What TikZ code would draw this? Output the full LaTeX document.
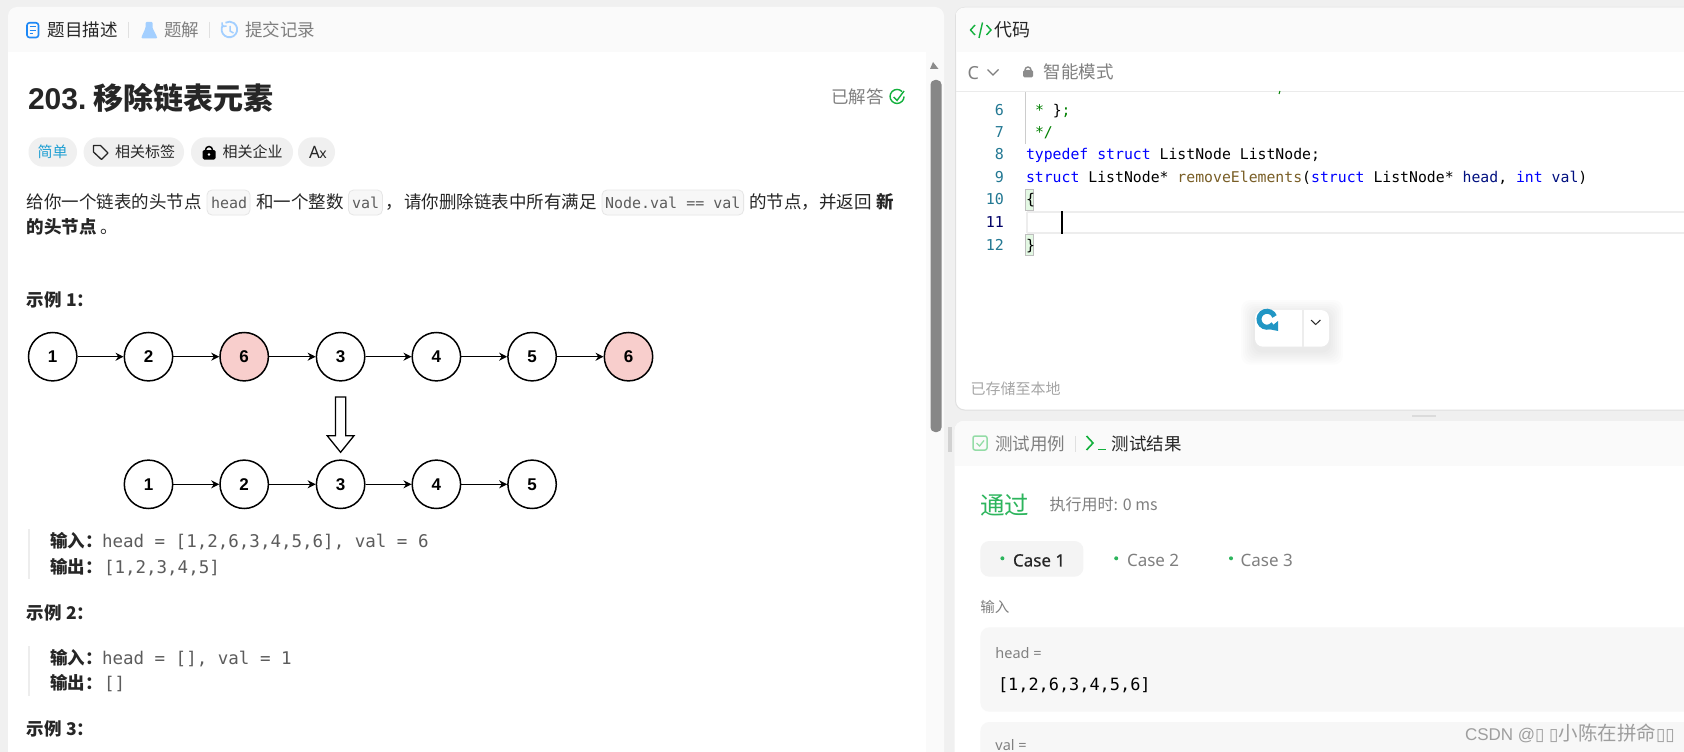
\documentclass[tikz,border=0pt]{standalone}
\usepackage{fontspec}
\usetikzlibrary{arrows.meta}
\setmainfont{Noto Sans CJK SC}
\newfontfamily\cjk{Noto Sans CJK SC}
\newfontfamily\codef{DejaVu Sans Mono}
\newfontfamily\arialf{Liberation Sans}
\newfontfamily\latf{Noto Sans}
\newfontfamily\dejaf{DejaVu Sans}
\newfontfamily\latbold[FakeBold=0.5]{Noto Sans}
\definecolor{pagebg}{HTML}{F0F0F0}
\definecolor{headbg}{HTML}{FAFAFA}
\definecolor{inkc}{HTML}{262626}
\definecolor{grayc}{HTML}{7F7F7F}
\definecolor{softc}{HTML}{A3CFFF}
\definecolor{docc}{HTML}{1E88F5}
\definecolor{logoc}{HTML}{2196C4}
\definecolor{greenc}{HTML}{12B03C}
\definecolor{passc}{HTML}{2DB55D}
\definecolor{pillc}{HTML}{F0F0F0}
\definecolor{codebg}{HTML}{F7F7F7}
\definecolor{codebd}{HTML}{E6E6E6}
\definecolor{monoc}{HTML}{5C5C5C}
\definecolor{numc}{HTML}{237893}
\definecolor{kwc}{HTML}{0000FF}
\definecolor{fnc}{HTML}{795E26}
\definecolor{varc}{HTML}{001080}
\definecolor{cmtc}{HTML}{008000}
\definecolor{pinkc}{HTML}{F8CECC}
\newcommand{\kw}[1]{\textcolor{kwc}{#1}}
\newcommand{\fnn}[1]{\textcolor{fnc}{#1}}
\newcommand{\vr}[1]{\textcolor{varc}{#1}}
\newcommand{\tofu}{{\dejaf\fontsize{17}{17}\selectfont ▯}}
\tikzset{
 x=1pt,y=-1pt,
 lab/.style={inner sep=0pt,outer sep=0pt,anchor=west,text height=.76*#1 pt,text depth=0pt,text=inkc},
 cn/.style={lab=#1,font=\cjk\fontsize{#1}{#1}\selectfont},
 cnb/.style={lab=#1,font=\cjk\bfseries\fontsize{#1}{#1}\selectfont},
 mn/.style={lab=#1,font=\codef\fontsize{#1}{#1}\selectfont},
 ltn/.style={lab=#1,font=\latf\fontsize{#1}{#1}\selectfont},
 ln/.style={circle,draw=black,line width=1.5pt,minimum size=48.4pt,inner sep=0pt,fill=white,font=\arialf\bfseries\fontsize{17}{17}\selectfont},
 lnred/.style={ln,fill=pinkc},
 lnk/.style={-{Stealth[length=8pt,width=8pt]},line width=1.5pt,black},
 pill/.style={fill=pillc,rounded corners=14.5pt},
 cpill/.style={fill=codebg,rounded corners=5pt},
 sep/.style={draw=black!12,line width=1pt},
 qbar/.style={fill=black!7},
 lnum/.style={lab=15,anchor=east,font=\codef\fontsize{15}{15}\selectfont,text=numc},
 code/.style={mn=14.8},
}
\begin{document}
\begin{tikzpicture}
\useasboundingbox (0,0) rectangle (1684,752);
\fill[pagebg] (0,0) rectangle (1684,752);
% ---------- left panel
\fill[headbg,rounded corners=9pt] (8,7) rectangle (944,780);
\fill[white] (8,52) rectangle (925.5,752);
\fill[black!2] (925.5,52) rectangle (944,752);
\fill[black!45] (933,62) -- (938.5,69) -- (930,69) -- cycle;
\fill[black!47,rounded corners=4.5pt] (930.5,80) rectangle (941.5,432);
% tab icons
\draw[docc,line width=1.6pt,rounded corners=2.5pt] (27,22.8) rectangle (38.5,37.5);
\draw[docc,line width=1.3pt] (29.5,26.8) -- (35.5,26.8) (29.5,30.2) -- (35.5,30.2) (29.5,33.6) -- (32.5,33.6);
\fill[softc,rounded corners=1pt] (145.5,22) -- (152.5,22) -- (152.5,28) -- (157,37) -- (157,38.5) -- (141.5,38.5) -- (141.5,37) -- (145.5,28) -- cycle;
\draw[softc,line width=1.8pt] (223,25) arc[start angle=215,end angle=-120,radius=7.8];
\draw[softc,line width=1.6pt] (222,22.5) -- (222.5,26.5) -- (226.5,26);
\draw[softc,line width=1.5pt] (230,26) -- (230,31) -- (233.5,33);
\draw[sep] (128,22) -- (128,38);
\draw[sep] (209,22) -- (209,38);
\node[cn=17.5] (t1) at (47.5,30) {题目描述};
\node[cn=17.5,text=grayc] (t2) at (164,30) {题解};
\node[cn=17.5,text=grayc] (t3) at (245,30) {提交记录};
% title
\node[lab=30,font=\arialf\bfseries\fontsize{30}{30}\selectfont] (title0) at (28,98) {203.};
\node[cnb=30] (title) at (93.5,98) {移除链表元素};
\node[cn=17.5,text=grayc] (done) at (831,97) {已解答};
\draw[greenc,line width=1.4pt] (902,91.5) arc[start angle=-45,end angle=-360,radius=7];
\draw[greenc,line width=1.4pt] (893.5,97) -- (897,100.5) -- (904,91);
% pills
\fill[pill] (28.5,137.3) rectangle (77,166.7);
\fill[pill] (83.6,137.3) rectangle (184,166.7);
\fill[pill] (191,137.3) rectangle (293,166.7);
\fill[pill] (298,137.3) rectangle (335,166.7);
\node[cn=15,text=cyan!70!teal] (easy) at (37.7,152) {简单};
\draw[inkc,line width=1.3pt,line join=round] (93.5,145.5) -- (100.5,145.5) -- (108,153) -- (101.5,159.5) -- (93.5,152) -- cycle;
\node[cn=15] (tag1) at (115,152) {相关标签};
\draw[black,line width=1.5pt] (205.5,150) arc[start angle=180,end angle=360,radius=3.5];
\fill[black,rounded corners=1.5pt] (202.5,150) rectangle (215.5,159.5);
\fill[white] (209,154.5) circle[radius=1.4];
\node[cn=15] (tag2) at (222.7,152) {相关企业};
\node[ltn=17] (langA) at (309,152) {A\kern-.5pt{\fontsize{14}{14}\selectfont x}};
% description
\fill[cpill] (207,190) rectangle (250,215);
\fill[cpill] (348.5,190) rectangle (382.4,215);
\fill[cpill] (602,190) rectangle (743.6,215);
\draw[codebd,line width=.8pt,rounded corners=5pt] (207,190) rectangle (250,215);
\draw[codebd,line width=.8pt,rounded corners=5pt] (348.5,190) rectangle (382.4,215);
\draw[codebd,line width=.8pt,rounded corners=5pt] (602,190) rectangle (743.6,215);
\node[cn=17.5] (d1) at (27,201.5) {给你一个链表的头节点};
\node[mn=15,text=monoc] (d2) at (211,203) {head};
\node[cn=17.5] (d3) at (256,201.5) {和一个整数};
\node[mn=15,text=monoc] (d4) at (352,203) {val};
\node[cn=17.5] (d5) at (385,201.5) {，};
\node[cn=17.5] (d6) at (404,201.5) {请你删除链表中所有满足};
\node[mn=15,text=monoc] (d7) at (605,203) {Node.val == val};
\node[cn=17.5] (d8) at (749,201.5) {的节点，并返回};
\node[cnb=17.5] (d9) at (876,201.5) {新};
\node[cnb=17.5] (d10) at (27,227) {的头节点};
\node[cn=17.5] (d11) at (100,227) {。};
% example 1
\node[cnb=17.5] (ex1) at (27,299.5) {示例 1：};
\node[ln] (a1) at (52.7,356.7) {1};
\node[ln] (a2) at (148.5,356.7) {2};
\node[lnred] (a3) at (244.2,356.7) {6};
\node[ln] (a4) at (340.6,356.7) {3};
\node[ln] (a5) at (436.4,356.7) {4};
\node[ln] (a6) at (532.1,356.7) {5};
\node[lnred] (a7) at (628.5,356.7) {6};
\draw[lnk] (a1) -- (a2);
\draw[lnk] (a2) -- (a3);
\draw[lnk] (a3) -- (a4);
\draw[lnk] (a4) -- (a5);
\draw[lnk] (a5) -- (a6);
\draw[lnk] (a6) -- (a7);
\draw[black,line width=1.3pt,fill=white,line join=miter] (335.4,397) -- (345.8,397) -- (345.8,435.7) -- (354,435.7) -- (340.6,452.3) -- (327.2,435.7) -- (335.4,435.7) -- cycle;
\node[ln] (b1) at (148.5,484.3) {1};
\node[ln] (b2) at (244.2,484.3) {2};
\node[ln] (b3) at (340.6,484.3) {3};
\node[ln] (b4) at (436.4,484.3) {4};
\node[ln] (b5) at (532.1,484.3) {5};
\draw[lnk] (b1) -- (b2);
\draw[lnk] (b2) -- (b3);
\draw[lnk] (b3) -- (b4);
\draw[lnk] (b4) -- (b5);
\fill[qbar] (28,529) rectangle (30,578.7);
\node[cnb=17.5] (i1) at (50,540.5) {输入：};
\node[mn=17.5,text=monoc] (i1v) at (102,540.5) {head = [1,2,6,3,4,5,6], val = 6};
\node[cnb=17.5] (o1) at (50,566.5) {输出：};
\node[mn=17.5,text=monoc] (o1v) at (104,566.5) {[1,2,3,4,5]};
\node[cnb=17.5] (ex2) at (27,612.7) {示例 2：};
\fill[qbar] (28,646) rectangle (30,695.7);
\node[cnb=17.5] (i2) at (50,657.5) {输入：};
\node[mn=17.5,text=monoc] (i2v) at (102,657.5) {head = [], val = 1};
\node[cnb=17.5] (o2) at (50,683.3) {输出：};
\node[mn=17.5,text=monoc] (o2v) at (104,683.3) {[]};
\node[cnb=17.5] (ex3) at (27,729.3) {示例 3：};
% ---------- top right panel
\fill[white,draw=black!12,line width=1pt,rounded corners=9pt] (955.5,7.5) rectangle (1700,410);
\begin{scope}
\clip[rounded corners=9pt] (955.5,7.5) rectangle (1700,410);
\fill[headbg] (955.5,7.5) rectangle (1700,52);
\draw[black!8,line width=1pt] (955.5,91.5) -- (1684,91.5);
\end{scope}
\draw[greenc,line width=1.4pt] (975,25) -- (970.5,30) -- (975,35) (986.5,25) -- (991,30) -- (986.5,35);
\draw[greenc,line width=1.4pt] (982.5,22.5) -- (979,38);
\node[cn=18] (codeT) at (994.5,30) {代码};
\node[ltn=18,text=grayc] (cLang) at (967.5,72.5) {C};
\draw[grayc,line width=1.2pt] (987.5,69.5) -- (993,75) -- (998.5,69.5);
\draw[grayc!90,line width=1.4pt] (1025,70) arc[start angle=180,end angle=360,radius=3];
\fill[grayc!90,rounded corners=1.5pt] (1023,70) rectangle (1033,77.5);
\node[cn=17.5,text=grayc] (mode) at (1043.5,72) {智能模式};
% code
\draw[black!20,line width=.8pt] (1025.5,92) -- (1025.5,144);
\draw[cmtc,line width=1pt] (1280,91) -- (1279,94);
\fill[codebg!92!green,draw=black!25,line width=.6pt] (1025.5,189.5) rectangle (1033.3,210);
\fill[codebg!92!green,draw=black!25,line width=.6pt] (1025.5,234.5) rectangle (1033.3,255.5);
\draw[black!7,line width=2pt] (1026.5,212) -- (1684,212) (1026.5,233) -- (1684,233) (1026.5,212) -- (1026.5,233);
\node[lnum] (n6) at (1004,109.7) {6};
\node[lnum] (n7) at (1004,131.5) {7};
\node[lnum] (n8) at (1004,154) {8};
\node[lnum] (n9) at (1004,176.5) {9};
\node[lnum] (n10) at (1004,199) {10};
\node[lnum,text=blue!40!black] (n11) at (1004,221.5) {11};
\node[lnum] (n12) at (1004,244.5) {12};
\node[code,text=cmtc] (c6) at (1035,109.7) {* \textcolor{black}{\}};};
\node[code,text=cmtc] (c7) at (1035,131.5) {*/};
\node[code,text=black] (c8) at (1026,154) {\kw{typedef} \kw{struct} ListNode ListNode;};
\node[code,text=black] (c9) at (1026,176.5) {\kw{struct} ListNode* \fnn{removeElements}(\kw{struct} ListNode* \vr{head}, \kw{int} \vr{val})};
\node[code,text=black] (c10) at (1026,199) {\{};
\node[code,text=black] (c12) at (1026,244.5) {\}};
\draw[black,line width=1.6pt] (1062,211) -- (1062,234);
% floating widget
\foreach \s in {14,12,10,8,6,4,2}
  \fill[black,opacity=.012,rounded corners=9pt] (1255-\s,310-\s+4) rectangle (1329+\s,346.7+\s+4);
\fill[white,rounded corners=8pt] (1255,310) rectangle (1329,346.7);
\draw[black!7,line width=1.2pt] (1303,310) -- (1303,346.7);
\draw[black!85,line width=1pt] (1311,320) -- (1315.7,324.5) -- (1320.4,320);
\fill[logoc] (1268,329) -- (1278,331) -- (1278,321) -- cycle;
\draw[logoc,line width=5pt] (1274.5,316.5) arc[start angle=-20,end angle=-320,radius=8];
\node[cn=15,text=black!35] (saved) at (970.5,389) {已存储至本地};
% handles
\draw[black!14,line width=2pt] (1412,415.7) -- (1436,415.7);
\fill[black!18] (948,427) rectangle (951.5,452);
% ---------- bottom right panel
\fill[white,rounded corners=9pt] (954.7,421) rectangle (1700,780);
\begin{scope}
\clip[rounded corners=9pt] (954.7,421) rectangle (1700,780);
\fill[headbg] (954.7,421) rectangle (1700,465.7);
\end{scope}
\draw[greenc!45,line width=1.5pt,rounded corners=2pt] (973,436) rectangle (987,450);
\draw[greenc!45,line width=1.3pt] (976.5,443) -- (979.5,446) -- (984,440.5);
\node[cn=17.5,text=grayc] (tc) at (995,444) {测试用例};
\draw[sep] (1075.7,436) -- (1075.7,452);
\draw[greenc,line width=1.6pt] (1086.5,436) -- (1093,443) -- (1086.5,450);
\draw[greenc,line width=1.6pt] (1098,449.5) -- (1105.7,449.5);
\node[cn=17.5] (tr) at (1111.7,444) {测试结果};
\node[cn=24.5,text=passc] (pass) at (980.4,505) {通过};
\node[cn=16,text=black!50] (rt) at (1049.7,504) {执行用时: 0 ms};
\fill[black!4.5,rounded corners=9pt] (980.4,541) rectangle (1083.4,576.7);
\fill[passc] (1002.4,558.3) circle[radius=2];
\fill[passc] (1116.2,558.3) circle[radius=2];
\fill[passc] (1231,558.3) circle[radius=2];
\node[lab=17,font=\latbold\fontsize{17}{17}\selectfont] (k1) at (1013,560) {Case 1};
\node[ltn=17,text=grayc] (k2) at (1127,560) {Case 2};
\node[ltn=17,text=grayc] (k3) at (1240.7,560) {Case 3};
\node[cn=14.5,text=black!50] (inlab) at (980.4,607.3) {输入};
\fill[codebg,rounded corners=9pt] (980.4,627.3) rectangle (1700,711.7);
\fill[codebg,rounded corners=9pt] (980.4,722) rectangle (1700,790);
\node[ltn=14.5,text=black!50] (hl) at (995.4,653.3) {head =};
\node[mn=16.9,text=black] (hv) at (998,684) {[1,2,6,3,4,5,6]};
\node[ltn=14.5,text=black!50] (vl) at (995.4,745) {val =};
% watermark
\node[lab=19,font=\arialf\fontsize{17}{17}\selectfont,text=black!38] (wm) at (1465,733.3) {CSDN @\tofu\ \tofu{\cjk\fontsize{19.5}{19.5}\selectfont 小陈在拼命}\tofu\tofu};
\end{tikzpicture}
\end{document}
